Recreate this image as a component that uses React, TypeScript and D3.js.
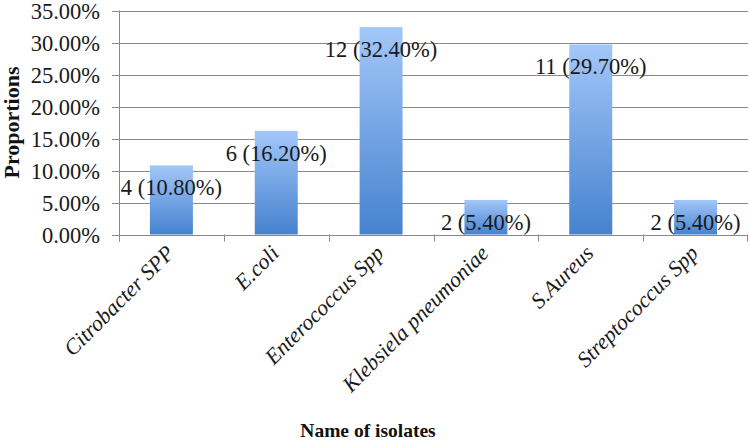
import React from "react";
import * as d3 from "d3";

const categories = [
  "Citrobacter SPP",
  "E.coli",
  "Enterococcus Spp",
  "Klebsiela pneumoniae",
  "S.Aureus",
  "Streptococcus Spp",
];
const counts = [4, 6, 12, 2, 11, 2];
const proportions = [10.8, 16.2, 32.4, 5.4, 29.7, 5.4];
const yTicks = [0, 5, 10, 15, 20, 25, 30, 35];

const W = 750;
const H = 441;
const left = 119;
const right = 748;
const top = 10.5;
const bottom = 234.5;
const FONT = "Liberation Serif, Tinos, DejaVu Serif, serif";

export default function App() {
  const x = d3.scaleBand<string>().domain(categories).range([left, right]).paddingInner(0.59).paddingOuter(0.295);
  const xOuter = d3.scaleBand<string>().domain(categories).range([left, right]);
  const y = d3.scaleLinear().domain([0, 35]).range([bottom, top]);
  const axisColor = "#898989";

  return (
    <svg width={W} height={H} style={{ position: "absolute", left: 0, top: 0, background: "#fff" }}>
      <defs>
        <linearGradient id="barGrad" x1="0" y1="0" x2="0" y2="1">
          <stop offset="0%" stopColor="#a3c7f9" />
          <stop offset="100%" stopColor="#4682cf" />
        </linearGradient>
      </defs>
      {yTicks.map((t) => (
        <line key={"g" + t} x1={left} x2={right} y1={Math.round(y(t)) + 0.5} y2={Math.round(y(t)) + 0.5} stroke={axisColor} strokeWidth={1} />
      ))}
      {yTicks.map((t) => (
        <g key={"y" + t}>
          <line x1={left - 7} x2={left} y1={Math.round(y(t)) + 0.5} y2={Math.round(y(t)) + 0.5} stroke={axisColor} />
          <text x={100} y={y(t)} dy="0.36em" textAnchor="end" style={{ fontFamily: FONT }} fontSize={22.5} fill="#1a1a1a">
            {t.toFixed(2) + "%"}
          </text>
        </g>
      ))}
      <line x1={left + 0.5} x2={left + 0.5} y1={top} y2={bottom + 7} stroke={axisColor} />
      {categories.map((c, i) => (
        <line key={"xt" + i} x1={Math.round(xOuter(c)!) + 0.5} x2={Math.round(xOuter(c)!) + 0.5} y1={bottom} y2={bottom + 7} stroke={axisColor} />
      ))}
      <line x1={right - 0.5} x2={right - 0.5} y1={bottom} y2={bottom + 7} stroke={axisColor} />
      {categories.map((c, i) => (
        <rect key={"b" + i} x={x(c)} y={y(proportions[i])} width={x.bandwidth()} height={bottom - y(proportions[i])} fill="url(#barGrad)" />
      ))}
      {categories.map((c, i) => (
        <text key={"l" + i} x={x(c)! + x.bandwidth() / 2} y={y(proportions[i]) + 30} textAnchor="middle" style={{ fontFamily: FONT }} fontSize={22.5} fill="#1a1a1a">
          {`${counts[i]} (${proportions[i].toFixed(2)}%)`}
        </text>
      ))}
      {categories.map((c, i) => {
        const cx = xOuter(c)! + xOuter.bandwidth() / 2 + 4;
        const cy = bottom + 20;
        return (
          <text key={"c" + i} x={cx} y={cy} textAnchor="end" style={{ fontFamily: FONT }} fontStyle="italic" fontSize={22} fill="#1a1a1a" transform={`rotate(-45 ${cx} ${cy})`}>
            {c}
          </text>
        );
      })}
      <text x={368} y={437} textAnchor="middle" style={{ fontFamily: FONT }} fontWeight="bold" fontSize={19.5} fill="#111">
        Name of isolates
      </text>
      <text x={0} y={0} transform={`translate(19 ${(top + bottom) / 2}) rotate(-90)`} textAnchor="middle" style={{ fontFamily: FONT }} fontWeight="bold" fontSize={22} fill="#111">
        Proportions
      </text>
    </svg>
  );
}
